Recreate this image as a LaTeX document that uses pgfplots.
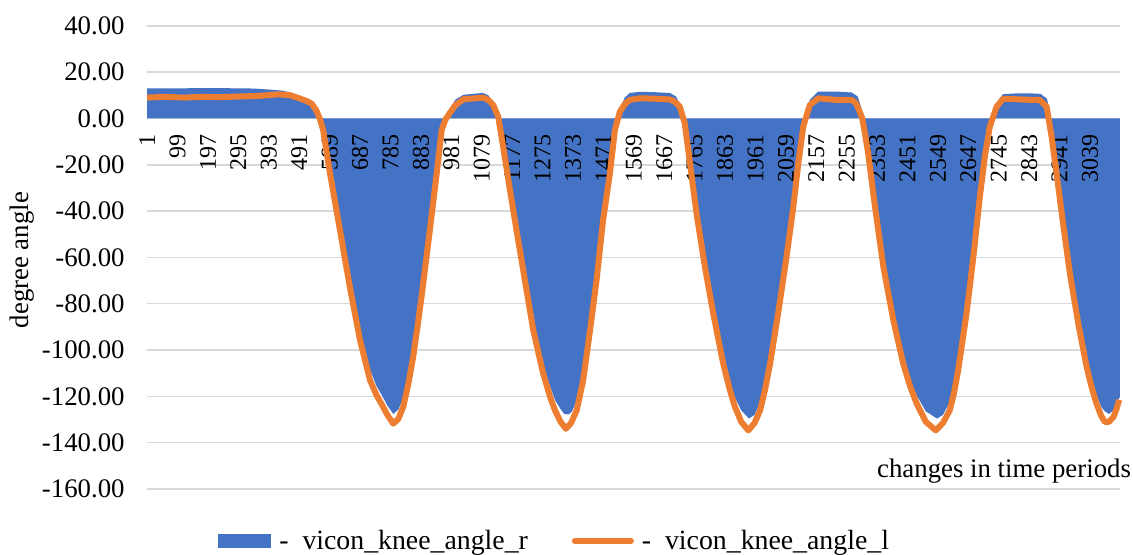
\documentclass[border=0pt]{standalone}
\usepackage{fontspec}
\setmainfont{Liberation Serif}
\usepackage{pgfplots}
\usepackage{pgfplotstable}
\pgfplotsset{compat=1.18}
\definecolor{xlblue}{HTML}{4472C4}
\definecolor{xlorange}{HTML}{ED7D31}
\definecolor{xlgrid}{HTML}{D9D9D9}
\newcommand\fsA{\fontsize{13.4pt}{16pt}\selectfont}
\newcommand\fsB{\fontsize{12pt}{14.4pt}\selectfont}
\newcommand\fsC{\fontsize{13.9pt}{16.6pt}\selectfont}
\pgfplotsset{
  layers/labelsontop/.define layer set={
    axis background,axis grid,axis ticks,axis lines,pre main,main,
    axis tick labels,axis descriptions,axis foreground
  }{
    grid style={/pgfplots/on layer=axis grid},
    tick style={/pgfplots/on layer=axis ticks},
    axis line style={/pgfplots/on layer=axis lines},
    label style={/pgfplots/on layer=axis descriptions},
    legend style={/pgfplots/on layer=axis descriptions},
    title style={/pgfplots/on layer=axis descriptions},
    colorbar style={/pgfplots/on layer=axis descriptions},
    ticklabel style={/pgfplots/on layer=axis tick labels},
    axis background@ style={/pgfplots/on layer=axis background},
    3d box foreground style={/pgfplots/on layer=axis foreground},
  },
}

% vicon_knee_angle_r (area)
\pgfplotstableread{
x y
1 0
1 13.0
100 13.0
200 13.1
300 13.0
345 12.9
390 12.5
437 12.0
471 10.9
503 8.7
535 5.8
557 1.5
566 -3.0
590 -21.5
622 -45.5
654 -69.5
687 -91.5
719 -108.5
740 -115.5
757 -119.5
775 -124.0
794 -127.6
810 -125.8
826 -121.0
842 -112.0
858 -100.5
872 -88.0
885 -75.0
899 -60.5
912 -46.5
934 -22.5
950 -4.0
962 0.8
977 4.5
995 8.2
1020 10.2
1050 10.6
1083 11.0
1100 10.0
1117 6.8
1133 1.0
1148 -11.5
1170 -29.5
1191 -46.5
1218 -67.5
1245 -88.5
1277 -106.5
1300 -116.0
1315 -121.5
1333 -125.5
1345 -127.6
1360 -127.8
1370 -126.5
1385 -122.0
1406 -110.0
1428 -89.0
1449 -67.5
1470 -42.0
1492 -22.0
1508 -4.0
1524 4.0
1540 9.0
1556 11.0
1589 11.5
1640 11.3
1685 11.0
1705 9.5
1720 5.5
1735 -1.0
1750 -18.0
1771 -39.5
1798 -62.0
1825 -81.5
1857 -102.5
1880 -114.0
1895 -120.5
1915 -126.0
1940 -129.6
1958 -128.0
1976 -122.5
1992 -114.0
2008 -103.0
2034 -82.0
2061 -58.0
2083 -37.0
2099 -18.5
2115 -2.5
2136 8.0
2163 11.6
2222 11.6
2271 11.2
2290 9.5
2300 5.5
2310 0.0
2318 -6.0
2324 -13.5
2346 -36.5
2373 -62.0
2405 -84.5
2437 -103.0
2460 -113.0
2480 -119.5
2510 -126.5
2546 -129.6
2565 -128.0
2587 -122.5
2600 -116.0
2614 -106.0
2641 -82.0
2663 -58.0
2684 -32.5
2700 -15.5
2716 -2.5
2738 7.0
2759 10.5
2800 10.8
2850 10.8
2880 10.6
2900 8.5
2915 -0.6
2931 -20.0
2952 -42.0
2974 -64.0
3001 -86.0
3028 -104.5
3045 -113.5
3060 -119.5
3075 -124.5
3087 -126.5
3100 -127.6
3114 -126.0
3124 -123.0
3135 -120.3
3135 0
}\rdata

% vicon_knee_angle_l (line)
\pgfplotstableread{
x y
1 9.0
60 9.3
120 9.0
180 9.3
240 9.2
300 9.5
360 9.7
420 10.4
460 10.1
493 8.6
515 7.5
531 6.4
545 3.7
557 0.0
568 -5.0
590 -23.6
622 -48.0
654 -72.7
687 -95.8
719 -113.0
740 -119.5
757 -123.5
775 -128.0
794 -131.8
810 -129.8
826 -124.6
842 -115.0
858 -103.0
872 -90.0
885 -77.0
899 -62.0
912 -48.0
934 -23.6
950 -5.0
962 -0.5
977 2.5
995 5.8
1020 8.3
1050 8.6
1083 9.0
1100 8.0
1116 5.8
1132 0.8
1148 -12.2
1170 -30.9
1191 -48.2
1218 -69.8
1245 -91.4
1277 -110.2
1300 -120.5
1315 -126.0
1333 -131.0
1350 -134.0
1367 -131.5
1385 -126.0
1406 -113.0
1428 -91.4
1449 -69.8
1470 -43.9
1492 -23.7
1508 -5.0
1524 2.9
1540 6.2
1556 8.0
1589 8.7
1640 8.5
1685 8.2
1700 7.3
1717 5.1
1733 -2.0
1750 -19.4
1771 -41.0
1798 -64.0
1825 -84.2
1857 -105.9
1880 -118.0
1895 -124.6
1915 -131.0
1938 -134.7
1958 -131.5
1976 -126.0
1992 -117.0
2008 -105.9
2034 -84.2
2061 -59.8
2083 -38.1
2099 -19.4
2115 -3.5
2136 5.8
2163 8.7
2222 8.0
2271 8.0
2285 6.5
2295 3.5
2305 0.0
2313 -6.0
2324 -15.0
2346 -38.0
2373 -64.0
2405 -87.0
2437 -105.9
2460 -116.0
2480 -123.0
2510 -131.0
2542 -134.7
2565 -131.5
2587 -126.0
2600 -119.0
2614 -108.8
2641 -84.2
2663 -59.8
2684 -33.8
2700 -16.5
2716 -3.5
2738 5.1
2759 8.5
2800 8.3
2850 8.0
2877 8.0
2899 5.1
2915 -7.9
2931 -23.7
2952 -45.3
2974 -66.9
3001 -88.6
3028 -107.3
3045 -116.5
3060 -123.2
3075 -128.5
3087 -131.1
3100 -131.0
3114 -129.0
3124 -125.5
3133 -121.5
}\ldata

\begin{document}
\begin{tikzpicture}
\begin{axis}[
  set layers=labelsontop,
  at={(0pt,0pt)}, anchor=south west,
  scale only axis, width=486.5pt, height=231.6pt,
  xmin=0.5, xmax=3135.5, ymin=-160, ymax=40,
  axis x line*=middle, axis y line*=left,
  hide obscured x ticks=false, hide obscured y ticks=false,
  axis line style={draw=none},
  major tick length=0pt,
  xtick={1,99,...,3039},
  ytick={-160,-140,...,40},
  ymajorgrids,
  grid style={draw=xlgrid, line width=0.75pt},
  /pgf/number format/assume math mode=true,
  /pgf/number format/1000 sep={},
  xticklabel style={font=\fsB, yshift=-8pt, rotate=90, anchor=east, inner sep=0pt},
  yticklabel style={font=\fsA, inner sep=0pt, xshift=-11pt, /pgf/number format/fixed, /pgf/number format/fixed zerofill, /pgf/number format/precision=2},
  xlabel={changes in time periods},
  every axis x label/.style={at={([xshift=9pt]rel axis cs:1,0.0255)}, anchor=base east, font=\fsA},
  ylabel={degree angle},
  every axis y label/.style={at={([xshift=-62.25pt]rel axis cs:0,0.494)}, rotate=90, anchor=center, font=\fsA},
  legend columns=2,
  legend cell align=left,
  legend style={draw=none, fill=none, at={([yshift=-26pt]axis description cs:0.42,0)}, anchor=center, font=\fsC,
    /tikz/every odd column/.append style={column sep=2pt},
    /tikz/every even column/.append style={column sep=20pt}},
]
\addplot[draw=none, fill=xlblue,
  legend image code/.code={\fill[xlblue] (0pt,-3.6pt) rectangle (26.5pt,3.6pt);}]
  table[x=x, y=y] {\rdata} -- cycle;
\addlegendentry{-\ \ vicon\_knee\_angle\_r}
\addplot[xlorange, line width=3pt, line join=round, /pgfplots/on layer=axis foreground,
  legend image code/.code={\draw[xlorange, line width=3pt, line cap=round] (0pt,0pt) -- (28pt,0pt);}]
  table[x=x, y=y] {\ldata};
\addlegendentry{-\ \ vicon\_knee\_angle\_l}
\coordinate (LL) at (rel axis cs:0,0);
\coordinate (UR) at (rel axis cs:1,1);
\end{axis}
\pgfresetboundingbox
\path[use as bounding box] ([xshift=-73.5pt,yshift=-33pt]LL) rectangle ([xshift=6.5pt,yshift=12.9pt]UR);
\end{tikzpicture}
\end{document}
